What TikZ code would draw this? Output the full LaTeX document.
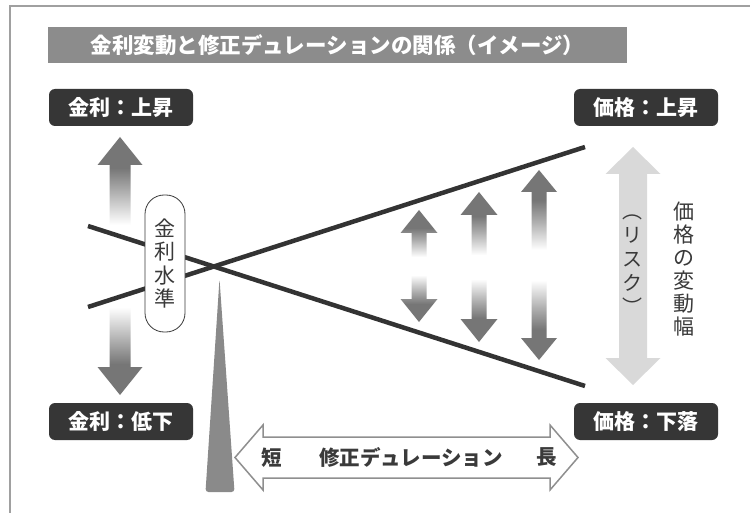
\documentclass[tikz,border=0pt]{standalone}
\usepackage{fontspec}
\setmainfont{Noto Sans CJK JP}
\definecolor{titlebg}{HTML}{8C8C8C}
\definecolor{boxbg}{HTML}{363636}
\definecolor{agray}{HTML}{767676}
\definecolor{agrayl}{HTML}{A8A8A8}
\definecolor{lightarrow}{HTML}{D9D9D9}
\definecolor{linec}{HTML}{333333}
\definecolor{spikec}{HTML}{8A8A8A}
\definecolor{outlinec}{HTML}{8F8F8F}
\definecolor{txt}{HTML}{3A3A3A}
\definecolor{framec}{HTML}{A0A0A0}
\pgfdeclareverticalshading{leftfade}{100bp}{color(0bp)=(agray); color(25bp)=(agray); color(31bp)=(agray); color(42bp)=(white); color(58bp)=(white); color(69bp)=(agray); color(75bp)=(agray); color(100bp)=(agray)}
\pgfdeclareverticalshading{midfade}{100bp}{color(0bp)=(agray); color(25bp)=(agray); color(33bp)=(agray); color(38bp)=(agrayl); color(46bp)=(white); color(54bp)=(white); color(62bp)=(agrayl); color(67bp)=(agray); color(75bp)=(agray); color(100bp)=(agray)}
\newcommand\vdarrow[7]{%
  \path[#1] (#2,#3) -- (#2+#6,#3+#5) -- (#2+#7,#3+#5) -- (#2+#7,#4-#5) -- (#2+#6,#4-#5) -- (#2,#4) -- (#2-#6,#4-#5) -- (#2-#7,#4-#5) -- (#2-#7,#3+#5) -- (#2-#6,#3+#5) -- cycle;}
\tikzset{
  labelbox/.style={fill=boxbg, rounded corners=6pt, text=white, font=\fontsize{21}{24}\selectfont\bfseries, minimum width=144pt, minimum height=37pt, inner sep=0pt},
  vtext/.style={text=txt, font=\fontsize{21}{23.5}\selectfont, align=center, inner sep=0pt},
  crossline/.style={draw=linec, line width=4.5pt},
  fadearrow/.style={shade, shading=midfade},
  leftarrow/.style={shade, shading=leftfade},
  riskarrow/.style={fill=lightarrow},
  durarrow/.style={draw=outlinec, line width=1.5pt, fill=white, line join=miter},
  durtext/.style={text=txt, font=\fontsize{20.5}{24}\selectfont\bfseries, inner sep=0pt},
  pill/.style={draw=txt, line width=0.8pt, fill=white, rounded corners=19pt, minimum width=40pt, minimum height=137pt, inner sep=0pt},
}
\begin{document}
\begin{tikzpicture}[x=1pt,y=-1pt]
\useasboundingbox (0,0) rectangle (750,513);
\fill[white] (0,0) rectangle (750,513);
% frame
\draw[framec, line width=2.5pt] (10,513) -- (10,6) -- (750,6);
% title
\node[fill=titlebg, minimum width=579pt, minimum height=36pt, inner sep=0pt, text=white, font=\fontsize{21.5}{24}\selectfont\bfseries] (title) at (337.5,45) {金利変動と修正デュレーションの関係（イメージ）};
% left fading double arrow
\vdarrow{leftarrow}{120}{137}{395}{28}{22.5}{10.5}
% crossing lines
\coordinate (a1) at (88,226);
\coordinate (a2) at (585,386);
\coordinate (b1) at (88,307);
\coordinate (b2) at (585,147);
\draw[crossline] (a1) -- (a2);
\draw[crossline] (b1) -- (b2);
% pill
\node[pill, vtext] (level) at (165,263.5) {金\\利\\水\\準};
% spike
\fill[spikec, rounded corners=3pt] (219.5,279) -- (234.5,492) -- (205.5,492) -- cycle;
% three fading arrows
\vdarrow{fadearrow}{419}{210}{322}{23}{18.5}{7.5}
\vdarrow{fadearrow}{479}{192}{342}{23}{18.5}{7.5}
\vdarrow{fadearrow}{539}{170}{360}{22}{18}{7.5}
% risk arrow
\vdarrow{riskarrow}{633}{147}{385}{27}{27.5}{14}
\node[vtext, font=\fontsize{20}{24}\selectfont] (risk) at (632,265) {︵\\リ\\ス\\ク\\︶};
\node[vtext, font=\fontsize{21}{23}\selectfont] (width) at (684,269) {価\\格\\の\\変\\動\\幅};
% duration arrow
\path[durarrow] (235,457.5) -- (263,425) -- (263,437) -- (550,437) -- (550,425) -- (578,457.5) -- (550,490) -- (550,478) -- (263,478) -- (263,490) -- cycle;
\node[durtext] (short) at (272,457.5) {短};
\node[durtext] (dur) at (411,457.5) {修正デュレーション};
\node[durtext] (long) at (547,457.5) {長};
% label boxes
\node[labelbox] (rateup) at (121,107.5) {金利：上昇};
\node[labelbox] (priceup) at (646,107.5) {価格：上昇};
\node[labelbox] (ratedown) at (121,421.5) {金利：低下};
\node[labelbox] (pricedown) at (646,421.5) {価格：下落};
\end{tikzpicture}
\end{document}
